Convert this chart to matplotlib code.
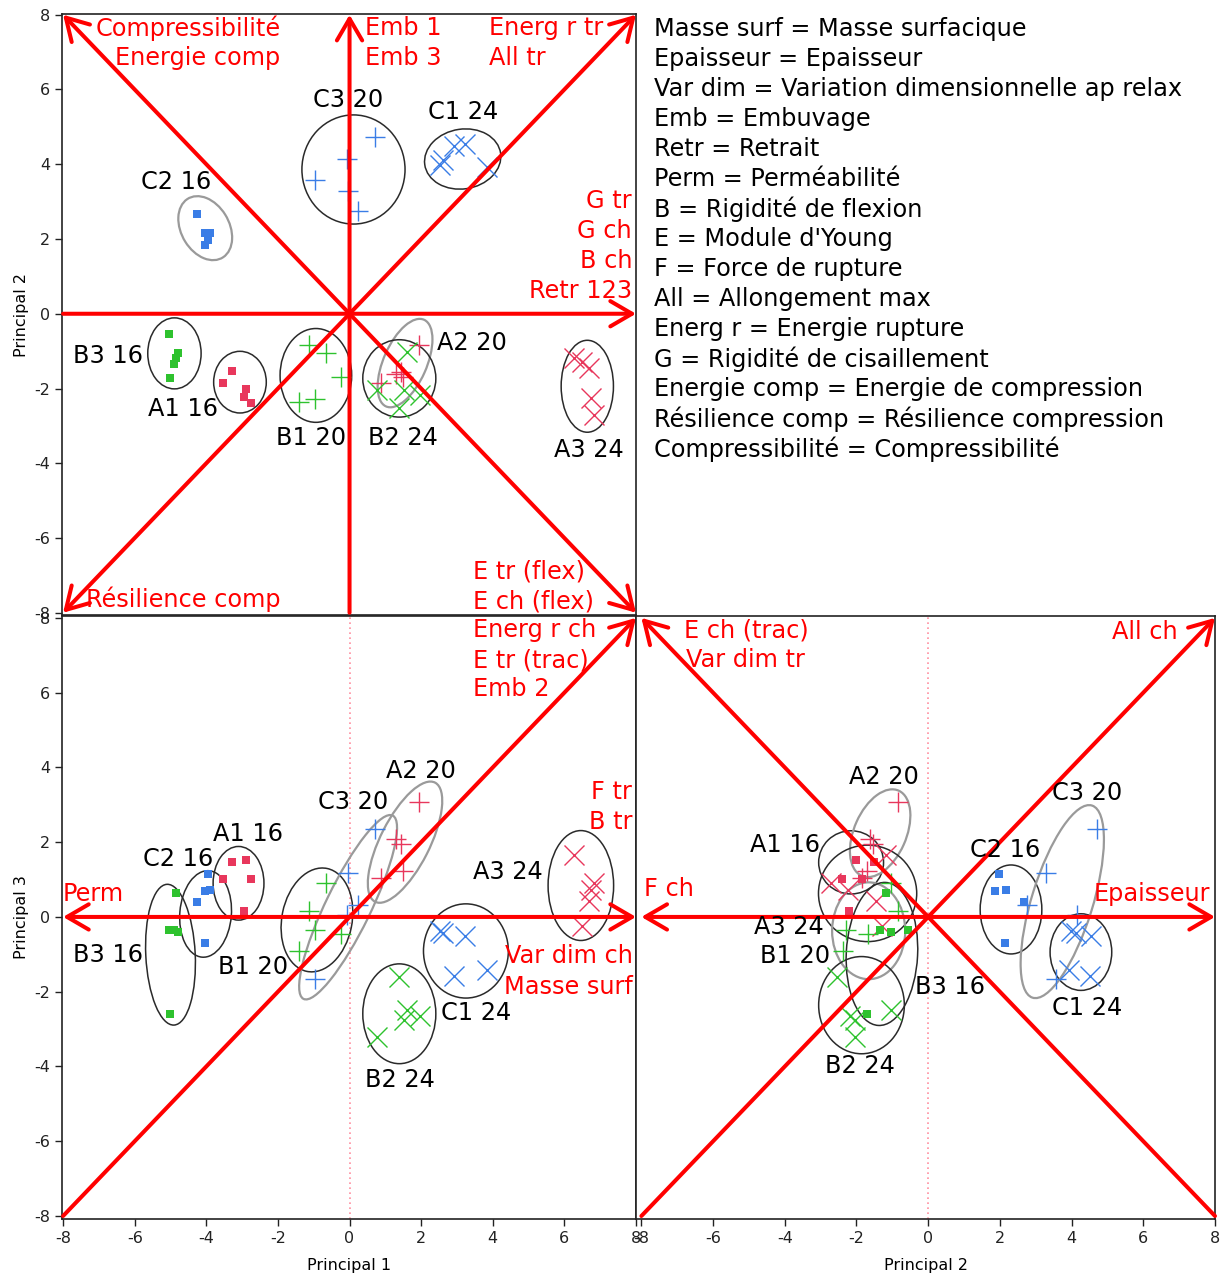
import matplotlib
matplotlib.use("Agg")
import matplotlib.pyplot as plt
from matplotlib.patches import Ellipse

plt.rcParams["axes.unicode_minus"] = False

# principal component scores for each fabric group (5 samples each)
groups = ["A1 16", "A2 20", "A3 24", "B1 20", "B2 24", "B3 16", "C1 24", "C2 16", "C3 20"]
p1 = {
    "A1 16": [-3.28, -2.88, -3.52, -2.74, -2.95],
    "A2 20": [1.95, 1.30, 1.45, 1.50, 0.88],
    "A3 24": [6.28, 6.84, 6.74, 6.70, 6.50],
    "B1 20": [-0.65, -1.12, -0.96, -0.24, -1.42],
    "B2 24": [1.37, 1.60, 0.76, 1.51, 1.97],
    "B3 16": [-4.85, -5.02, -5.04, -4.79, -4.90],
    "C1 24": [2.53, 2.60, 3.23, 3.85, 2.92],
    "C2 16": [-4.25, -3.95, -4.05, -3.90, -4.05],
    "C3 20": [0.70, -0.03, 0.25, -0.08, -0.96],
}
p2 = {
    "A1 16": [-1.52, -2.02, -1.86, -2.40, -2.22],
    "A2 20": [-0.84, -1.62, -1.55, -1.70, -1.85],
    "A3 24": [-1.18, -2.72, -2.25, -1.45, -1.30],
    "B1 20": [-1.05, -0.83, -2.28, -1.68, -2.37],
    "B2 24": [-2.53, -1.03, -2.05, -2.05, -2.18],
    "B3 16": [-1.19, -1.72, -0.55, -1.05, -1.35],
    "C1 24": [3.98, 4.12, 4.55, 3.93, 4.50],
    "C2 16": [2.66, 1.98, 1.85, 2.17, 2.15],
    "C3 20": [4.72, 3.28, 2.75, 4.15, 3.57],
}
p3 = {
    "A1 16": [1.48, 1.51, 1.02, 1.02, 0.17],
    "A2 20": [3.07, 2.08, 1.95, 1.22, 1.03],
    "A3 24": [1.66, 0.90, 0.72, 0.42, -0.25],
    "B1 20": [0.90, 0.17, -0.35, -0.45, -0.90],
    "B2 24": [-1.60, -2.48, -3.20, -2.75, -2.65],
    "B3 16": [0.64, -2.59, -0.36, -0.41, -0.36],
    "C1 24": [-0.38, -0.42, -0.52, -1.42, -1.57],
    "C2 16": [0.40, 1.14, 0.70, 0.72, -0.71],
    "C3 20": [2.34, 1.18, 0.31, 0.06, -1.67],
}

# density ellipses: group -> (cx, cy, width, height, angle, grey?)
ell_12 = {
    "C2 16": (-4.03, 2.29, 1.85, 1.33, -57, True),
    "C3 20": (0.11, 3.86, 2.88, 2.92, 0, False),
    "C1 24": (3.16, 4.14, 2.14, 1.60, 8, False),
    "B3 16": (-4.89, -1.06, 1.49, 1.90, 0, False),
    "A1 16": (-3.06, -1.83, 1.47, 1.65, 0, False),
    "B1 20": (-0.94, -1.65, 2.00, 2.51, 0, False),
    "B2 24": (1.39, -1.73, 2.04, 2.07, 0, False),
    "A2 20": (1.55, -1.32, 2.55, 1.20, 65, True),
    "A3 24": (6.64, -1.94, 1.46, 2.46, 0, False),
}
ell_13 = {
    "A3 24": (6.46, 0.84, 1.83, 2.94, 0, False),
    "C1 24": (3.25, -0.91, 2.37, 2.52, 0, False),
    "B2 24": (1.39, -2.59, 2.04, 2.67, 0, False),
    "A2 20": (1.55, 2.00, 3.60, 1.37, 62, True),
    "C3 20": (-0.04, 0.26, 5.50, 1.25, 63, True),
    "B1 20": (-0.91, -0.08, 2.81, 1.96, 78, False),
    "C2 16": (-4.02, 0.08, 2.32, 1.44, 85, False),
    "A1 16": (-3.10, 0.90, 1.42, 1.97, 0, False),
    "B3 16": (-5.00, -1.01, 3.77, 1.38, 93, False),
}
ell_23 = {
    "A2 20": (-1.34, 2.24, 2.50, 1.45, 65, True),
    "A1 16": (-2.15, 1.46, 1.81, 1.69, 0, False),
    "A3 24": (-1.69, 0.63, 2.74, 2.58, 0, False),
    "B1 20": (-1.66, -0.37, 2.04, 2.59, 0, True),
    "B3 16": (-1.29, -0.99, 3.83, 1.99, 87, False),
    "B2 24": (-1.86, -2.36, 2.39, 2.60, 0, False),
    "C2 16": (2.31, 0.20, 1.72, 2.38, 0, False),
    "C3 20": (3.74, 0.41, 5.40, 1.70, 72, True),
    "C1 24": (4.26, -0.94, 1.72, 2.05, 0, False),
}

# group name labels
lab_12 = {"C2 16": (-4.84, 3.53), "C3 20": (-0.04, 5.72), "C1 24": (3.17, 5.40),
          "B3 16": (-6.74, -1.12), "A1 16": (-4.65, -2.54), "B1 20": (-1.07, -3.32),
          "B2 24": (1.50, -3.32), "A2 20": (3.42, -0.78), "A3 24": (6.69, -3.64)}
lab_13 = {"C2 16": (-4.78, 1.55), "A1 16": (-2.83, 2.22), "B3 16": (-6.74, -1.02),
          "B1 20": (-2.69, -1.34), "C3 20": (0.10, 3.07), "A2 20": (2.00, 3.90),
          "A3 24": (4.43, 1.20), "C1 24": (3.54, -2.57), "B2 24": (1.41, -4.36)}
lab_23 = {"A2 20": (-1.23, 3.74), "A1 16": (-3.99, 1.93), "A3 24": (-3.88, -0.27),
          "B1 20": (-3.71, -1.04), "B3 16": (0.61, -1.87), "B2 24": (-1.90, -3.98),
          "C3 20": (4.44, 3.32), "C2 16": (2.15, 1.79), "C1 24": (4.44, -2.43)}

# loading arrows (start, end, style) and variable labels
arrows_12 = [((-8, 8), (8, -8), "<->"), ((-8, -8), (8, 8), "<->"),
             ((0, -8), (0, 8), "->"), ((-8, 0), (8, 0), "->")]
arrows_13 = [((-8, 0), (8, 0), "<->"), ((-8, -8), (8, 8), "->")]
arrows_23 = [((-8, 0), (8, 0), "<->"), ((8, -8), (-8, 8), "->"), ((-8, -8), (8, 8), "->")]

vars_12 = [("Compressibilité", -1.93, 7.65, "right"), ("Energie comp", -1.93, 6.84, "right"),
           ("Emb 1", 0.44, 7.65, "left"), ("Emb 3", 0.44, 6.84, "left"),
           ("Energ r tr", 3.90, 7.65, "left"), ("All tr", 3.90, 6.84, "left"),
           ("G tr", 7.89, 3.02, "right"), ("G ch", 7.89, 2.22, "right"),
           ("B ch", 7.89, 1.42, "right"), ("Retr 123", 7.89, 0.61, "right"),
           ("Résilience comp", -7.36, -7.65, "left"),
           ("E tr (flex)", 3.45, -6.90, "left"), ("E ch (flex)", 3.45, -7.70, "left")]
vars_13 = [("Energ r ch", 3.45, 7.67, "left"), ("E tr (trac)", 3.45, 6.87, "left"),
           ("Emb 2", 3.45, 6.10, "left"), ("Perm", -8.0, 0.61, "left"),
           ("F tr", 7.89, 3.34, "right"), ("B tr", 7.89, 2.54, "right"),
           ("Var dim ch", 7.92, -1.04, "right"), ("Masse surf", 7.92, -1.87, "right")]
vars_23 = [("E ch (trac)", -6.81, 7.65, "left"), ("Var dim tr", -6.75, 6.87, "left"),
           ("All ch", 6.97, 7.62, "right"), ("F ch", -7.92, 0.75, "left"),
           ("Epaisseur", 7.87, 0.61, "right")]

glossary = ["Masse surf = Masse surfacique", "Epaisseur = Epaisseur",
            "Var dim = Variation dimensionnelle ap relax", "Emb = Embuvage",
            "Retr = Retrait", "Perm = Perméabilité", "B = Rigidité de flexion",
            "E = Module d'Young", "F = Force de rupture", "All = Allongement max",
            "Energ r = Energie rupture", "G = Rigidité de cisaillement",
            "Energie comp = Energie de compression",
            "Résilience comp = Résilience compression",
            "Compressibilité = Compressibilité"]

colors = {"A": "#e8375c", "B": "#2ec22e", "C": "#3a7de6"}
markers = {"16": "s", "20": "+", "24": "x"}
RED = "#ff0000"
FONT = "DejaVu Sans"
TICKFONT = "Liberation Sans Narrow"
FS = 17.3

W, H = 1221, 1279
fig = plt.figure(figsize=(W / 100, H / 100), dpi=100)


def box(l, t, r, b):
    return [l / W, 1 - b / H, (r - l) / W, (b - t) / H]


def draw_panel(ax, xlim, ylim, xs, ys, ells, labs, arrows, varlabs, dotted):
    ax.set_xlim(*xlim)
    ax.set_ylim(*ylim)
    if dotted:
        ax.axvline(0, color="#ff8fa0", lw=1.2, ls=(0, (1, 2)), zorder=1)
    for g in groups:
        cx, cy, w, h, ang, grey = ells[g]
        ax.add_patch(Ellipse((cx, cy), w, h, angle=ang, fill=False,
                             ec="#9a9a9a" if grey else "#2a2a2a",
                             lw=1.6 if grey else 1.1, zorder=2))
        m = markers[g.split()[1]]
        c = colors[g[0]]
        if m == "s":
            ax.plot(xs[g], ys[g], "s", color=c, ms=5.5, mew=0, zorder=3)
        else:
            ax.plot(xs[g], ys[g], m, color=c, ms=14, mew=1.0, zorder=3)
        lx, ly = labs[g]
        ax.text(lx, ly, g, fontsize=FS, family=FONT, color="black",
                ha="center", va="center", zorder=5)
    for (x0, y0), (x1, y1), st in arrows:
        ax.annotate("", xy=(x1, y1), xytext=(x0, y0), annotation_clip=False,
                    arrowprops=dict(arrowstyle=st + ",head_length=0.6,head_width=0.35",
                                    color=RED, lw=2.9, shrinkA=0, shrinkB=0,
                                    mutation_scale=26), zorder=4)
    for txt, x, y, ha in varlabs:
        ax.text(x, y, txt, fontsize=FS, family=FONT, color=RED, ha=ha,
                va="center", zorder=6, clip_on=False)
    ax.set_xticks(range(-8, 9, 2))
    ax.set_yticks(range(-8, 9, 2))
    for s in ax.spines.values():
        s.set_color("#222222")
        s.set_linewidth(1.2)
    ax.tick_params(direction="out", length=5, width=1, labelsize=11.5,
                   colors="#222222")
    for t in ax.get_xticklabels() + ax.get_yticklabels():
        t.set_family(TICKFONT)


ax12 = fig.add_axes(box(62, 14, 636, 615))
draw_panel(ax12, (-8.03, 8.0), (-8.06, 8.02), p1, p2, ell_12, lab_12,
           arrows_12, vars_12, False)
ax12.tick_params(axis="x", bottom=False, labelbottom=False)
ax12.set_ylabel("Principal 2", fontsize=11.5, family=TICKFONT, labelpad=4)

ax13 = fig.add_axes(box(62, 616, 636, 1219))
draw_panel(ax13, (-8.03, 8.0), (-8.08, 8.05), p1, p3, ell_13, lab_13,
           arrows_13, vars_13, True)
ax13.set_ylabel("Principal 3", fontsize=11.5, family=TICKFONT, labelpad=4)
ax13.set_xlabel("Principal 1", fontsize=11.5, family=TICKFONT, labelpad=9)

ax23 = fig.add_axes(box(636, 616, 1215, 1219))
draw_panel(ax23, (-8.15, 8.0), (-8.08, 8.05), p2, p3, ell_23, lab_23,
           arrows_23, vars_23, True)
ax23.tick_params(axis="y", left=False, labelleft=False)
ax23.set_xlabel("Principal 2", fontsize=11.5, family=TICKFONT, labelpad=9)

for i, line in enumerate(glossary):
    fig.text(654 / W, 1 - (29 + 30 * i) / H, line, fontsize=FS, family=FONT,
             color="black", ha="left", va="center")

fig.savefig("out.png", dpi=100)
